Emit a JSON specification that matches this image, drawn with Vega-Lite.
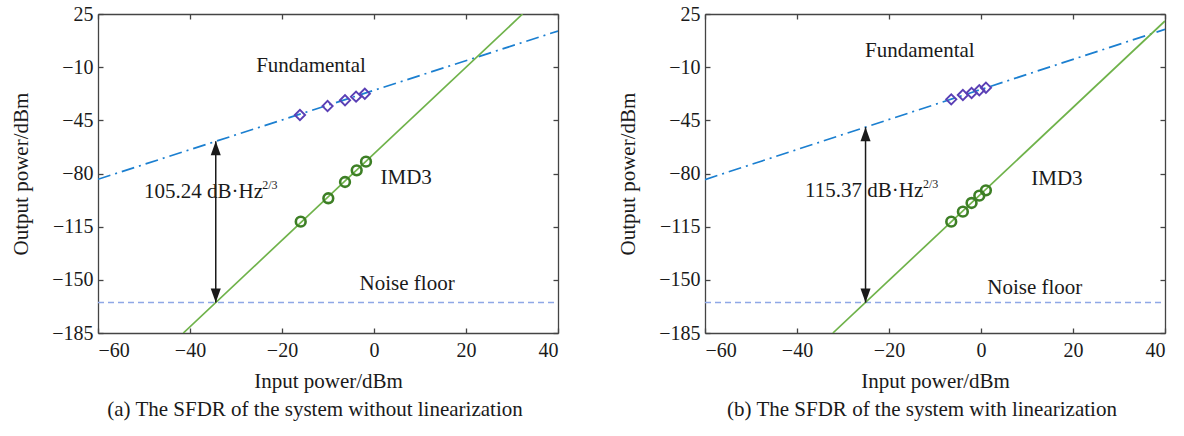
{
  "$schema": "https://vega.github.io/schema/vega-lite/v6.json",
  "background": "white",
  "padding": {"left": 10, "top": 4, "right": 10, "bottom": 5},
  "spacing": 56,
  "config": {
    "view": {"stroke": null},
    "font": "Liberation Serif",
    "axis": {"domainColor": "#444", "tickColor": "#444", "labelColor": "#1a1a1a", "titleColor": "#1a1a1a", "labelFont": "Liberation Serif", "titleFont": "Liberation Serif", "labelFontSize": 20, "titleFontSize": 21, "titleFontWeight": "normal", "grid": false, "tickSize": -5, "domainWidth": 1.3, "tickWidth": 1.3, "labelExpr": "datum.value < 0 ? '\u2212' + abs(datum.value) : '' + datum.value"},
    "title": {"font": "Liberation Serif", "fontSize": 21, "fontWeight": "normal", "color": "#1a1a1a"}
  },
  "datasets": {
    "noise": [{"x": -60, "y": -165}, {"x": 40, "y": -165}],
    "fundL": [{"x": -60, "y": -83.8}, {"x": 40, "y": 13.8}],
    "imdL": [{"x": -41.45, "y": -185}, {"x": 32.3, "y": 25}],
    "diaL": [{"x": -16.1, "y": -41.5}, {"x": -10.1, "y": -35.6}, {"x": -6.3, "y": -31.8}, {"x": -3.9, "y": -29.4}, {"x": -2.0, "y": -27.5}],
    "cirL": [{"x": -15.93, "y": -111.7}, {"x": -9.93, "y": -96.3}, {"x": -6.3, "y": -85.6}, {"x": -3.76, "y": -77.9}, {"x": -1.74, "y": -72.2}],
    "arrL": [{"x": -34.4, "ytop": -58.8, "ybot": -165}],
    "txtL": [{"x": -13.7, "y": -9.2, "t": "Fundamental"}, {"x": 7.0, "y": -83, "t": "IMD3"}, {"x": 7.2, "y": -152.7, "t": "Noise floor"}],
    "valL": [{"x": -50, "y": -92.2, "t": "105.24 dB·Hz"}],
    "supL": [{"x": -24.3, "y": -87.6, "t": "2/3"}],
    "fundR": [{"x": -60, "y": -84}, {"x": 40, "y": 14.9}],
    "imdR": [{"x": -32.2, "y": -185}, {"x": 40, "y": 20.4}],
    "diaR": [{"x": -6.47, "y": -31.2}, {"x": -3.94, "y": -28.3}, {"x": -2.05, "y": -27.0}, {"x": -0.37, "y": -25.2}, {"x": 1.07, "y": -23.5}],
    "cirR": [{"x": -6.47, "y": -111.7}, {"x": -3.94, "y": -105.1}, {"x": -2.05, "y": -99.4}, {"x": -0.37, "y": -94.6}, {"x": 1.07, "y": -91.1}],
    "arrR": [{"x": -25.1, "ytop": -49.5, "ybot": -165}],
    "txtR": [{"x": -13.3, "y": 0.6, "t": "Fundamental"}, {"x": 16.5, "y": -83.6, "t": "IMD3"}, {"x": 11.7, "y": -155.4, "t": "Noise floor"}],
    "valR": [{"x": -38.26, "y": -91.5, "t": "115.37 dB·Hz"}],
    "supR": [{"x": -12.6, "y": -86.9, "t": "2/3"}]
  },
  "hconcat": [
    {
      "width": 460, "height": 319,
      "title": {"text": "(a) The SFDR of the system without linearization", "orient": "bottom", "anchor": "middle", "dx": -13, "offset": 8},
      "resolve": {"axis": {"x": "independent", "y": "independent"}},
      "layer": [
        {"data": {"name": "noise"}, "mark": {"type": "line", "color": "#8fa8e6", "strokeDash": [6, 4], "strokeWidth": 1.5},
         "encoding": {"x": {"field": "x", "type": "quantitative", "scale": {"domain": [-60, 40], "nice": false}, "axis": {"orient": "bottom", "values": [-60, -40, -20, 0, 20, 40], "title": "Input power/dBm", "labelPadding": 12, "titlePadding": 10}},
                      "y": {"field": "y", "type": "quantitative", "scale": {"domain": [-185, 25], "nice": false, "zero": false}, "axis": {"orient": "left", "values": [25, -10, -45, -80, -115, -150, -185], "title": "Output power/dBm", "labelPadding": 10, "titlePadding": 20}}}},
        {"data": {"name": "fundL"}, "mark": {"type": "line", "color": "#1b7fd0", "strokeDash": [13, 5, 2, 5], "strokeWidth": 1.7, "clip": true},
         "encoding": {"x": {"field": "x", "type": "quantitative", "axis": {"orient": "top", "values": [-60, -40, -20, 0, 20, 40], "labels": false, "title": null}},
                      "y": {"field": "y", "type": "quantitative", "axis": {"orient": "right", "values": [25, -10, -45, -80, -115, -150, -185], "labels": false, "title": null}}}},
        {"data": {"name": "imdL"}, "mark": {"type": "line", "color": "#6fb24a", "strokeWidth": 1.7, "clip": true},
         "encoding": {"x": {"field": "x", "type": "quantitative", "axis": null}, "y": {"field": "y", "type": "quantitative", "axis": null}}},
        {"data": {"name": "diaL"}, "mark": {"type": "point", "shape": "diamond", "size": 105, "filled": false, "stroke": "#5a3fb5", "strokeWidth": 1.9, "opacity": 1},
         "encoding": {"x": {"field": "x", "type": "quantitative", "axis": null}, "y": {"field": "y", "type": "quantitative", "axis": null}}},
        {"data": {"name": "cirL"}, "mark": {"type": "point", "shape": "circle", "size": 95, "filled": false, "stroke": "#3d7f25", "strokeWidth": 2.6, "opacity": 1},
         "encoding": {"x": {"field": "x", "type": "quantitative", "axis": null}, "y": {"field": "y", "type": "quantitative", "axis": null}}},
        {"data": {"name": "arrL"}, "mark": {"type": "rule", "color": "#1a1a1a", "strokeWidth": 1.5},
         "encoding": {"x": {"field": "x", "type": "quantitative", "axis": null}, "y": {"field": "ytop", "type": "quantitative", "axis": null}, "y2": {"field": "ybot"}}},
        {"data": {"name": "arrL"}, "mark": {"type": "point", "shape": "M0,0L-0.36,1L0.36,1Z", "size": 784, "filled": true, "color": "#1a1a1a", "opacity": 1, "strokeWidth": 0},
         "encoding": {"x": {"field": "x", "type": "quantitative", "axis": null}, "y": {"field": "ytop", "type": "quantitative", "axis": null}}},
        {"data": {"name": "arrL"}, "mark": {"type": "point", "shape": "M0,0L-0.36,-1L0.36,-1Z", "size": 784, "filled": true, "color": "#1a1a1a", "opacity": 1, "strokeWidth": 0},
         "encoding": {"x": {"field": "x", "type": "quantitative", "axis": null}, "y": {"field": "ybot", "type": "quantitative", "axis": null}}},
        {"data": {"name": "txtL"}, "mark": {"type": "text", "font": "Liberation Serif", "fontSize": 21, "color": "#1a1a1a", "baseline": "middle", "align": "center"},
         "encoding": {"x": {"field": "x", "type": "quantitative", "axis": null}, "y": {"field": "y", "type": "quantitative", "axis": null}, "text": {"field": "t"}}},
        {"data": {"name": "valL"}, "mark": {"type": "text", "font": "Liberation Serif", "fontSize": 21, "color": "#1a1a1a", "baseline": "middle", "align": "left"},
         "encoding": {"x": {"field": "x", "type": "quantitative", "axis": null}, "y": {"field": "y", "type": "quantitative", "axis": null}, "text": {"field": "t"}}},
        {"data": {"name": "supL"}, "mark": {"type": "text", "font": "Liberation Serif", "fontSize": 12, "color": "#1a1a1a", "baseline": "middle", "align": "left"},
         "encoding": {"x": {"field": "x", "type": "quantitative", "axis": null}, "y": {"field": "y", "type": "quantitative", "axis": null}, "text": {"field": "t"}}}
      ]
    },
    {
      "width": 460, "height": 319,
      "title": {"text": "(b) The SFDR of the system with linearization", "orient": "bottom", "anchor": "middle", "dx": -13, "offset": 8},
      "resolve": {"axis": {"x": "independent", "y": "independent"}},
      "layer": [
        {"data": {"name": "noise"}, "mark": {"type": "line", "color": "#8fa8e6", "strokeDash": [6, 4], "strokeWidth": 1.5},
         "encoding": {"x": {"field": "x", "type": "quantitative", "scale": {"domain": [-60, 40], "nice": false}, "axis": {"orient": "bottom", "values": [-60, -40, -20, 0, 20, 40], "title": "Input power/dBm", "labelPadding": 12, "titlePadding": 10}},
                      "y": {"field": "y", "type": "quantitative", "scale": {"domain": [-185, 25], "nice": false, "zero": false}, "axis": {"orient": "left", "values": [25, -10, -45, -80, -115, -150, -185], "title": "Output power/dBm", "labelPadding": 10, "titlePadding": 20}}}},
        {"data": {"name": "fundR"}, "mark": {"type": "line", "color": "#1b7fd0", "strokeDash": [13, 5, 2, 5], "strokeWidth": 1.7, "clip": true},
         "encoding": {"x": {"field": "x", "type": "quantitative", "axis": {"orient": "top", "values": [-60, -40, -20, 0, 20, 40], "labels": false, "title": null}},
                      "y": {"field": "y", "type": "quantitative", "axis": {"orient": "right", "values": [25, -10, -45, -80, -115, -150, -185], "labels": false, "title": null}}}},
        {"data": {"name": "imdR"}, "mark": {"type": "line", "color": "#6fb24a", "strokeWidth": 1.7, "clip": true},
         "encoding": {"x": {"field": "x", "type": "quantitative", "axis": null}, "y": {"field": "y", "type": "quantitative", "axis": null}}},
        {"data": {"name": "diaR"}, "mark": {"type": "point", "shape": "diamond", "size": 105, "filled": false, "stroke": "#5a3fb5", "strokeWidth": 1.9, "opacity": 1},
         "encoding": {"x": {"field": "x", "type": "quantitative", "axis": null}, "y": {"field": "y", "type": "quantitative", "axis": null}}},
        {"data": {"name": "cirR"}, "mark": {"type": "point", "shape": "circle", "size": 95, "filled": false, "stroke": "#3d7f25", "strokeWidth": 2.6, "opacity": 1},
         "encoding": {"x": {"field": "x", "type": "quantitative", "axis": null}, "y": {"field": "y", "type": "quantitative", "axis": null}}},
        {"data": {"name": "arrR"}, "mark": {"type": "rule", "color": "#1a1a1a", "strokeWidth": 1.5},
         "encoding": {"x": {"field": "x", "type": "quantitative", "axis": null}, "y": {"field": "ytop", "type": "quantitative", "axis": null}, "y2": {"field": "ybot"}}},
        {"data": {"name": "arrR"}, "mark": {"type": "point", "shape": "M0,0L-0.36,1L0.36,1Z", "size": 784, "filled": true, "color": "#1a1a1a", "opacity": 1, "strokeWidth": 0},
         "encoding": {"x": {"field": "x", "type": "quantitative", "axis": null}, "y": {"field": "ytop", "type": "quantitative", "axis": null}}},
        {"data": {"name": "arrR"}, "mark": {"type": "point", "shape": "M0,0L-0.36,-1L0.36,-1Z", "size": 784, "filled": true, "color": "#1a1a1a", "opacity": 1, "strokeWidth": 0},
         "encoding": {"x": {"field": "x", "type": "quantitative", "axis": null}, "y": {"field": "ybot", "type": "quantitative", "axis": null}}},
        {"data": {"name": "txtR"}, "mark": {"type": "text", "font": "Liberation Serif", "fontSize": 21, "color": "#1a1a1a", "baseline": "middle", "align": "center"},
         "encoding": {"x": {"field": "x", "type": "quantitative", "axis": null}, "y": {"field": "y", "type": "quantitative", "axis": null}, "text": {"field": "t"}}},
        {"data": {"name": "valR"}, "mark": {"type": "text", "font": "Liberation Serif", "fontSize": 21, "color": "#1a1a1a", "baseline": "middle", "align": "left"},
         "encoding": {"x": {"field": "x", "type": "quantitative", "axis": null}, "y": {"field": "y", "type": "quantitative", "axis": null}, "text": {"field": "t"}}},
        {"data": {"name": "supR"}, "mark": {"type": "text", "font": "Liberation Serif", "fontSize": 12, "color": "#1a1a1a", "baseline": "middle", "align": "left"},
         "encoding": {"x": {"field": "x", "type": "quantitative", "axis": null}, "y": {"field": "y", "type": "quantitative", "axis": null}, "text": {"field": "t"}}}
      ]
    }
  ]
}
